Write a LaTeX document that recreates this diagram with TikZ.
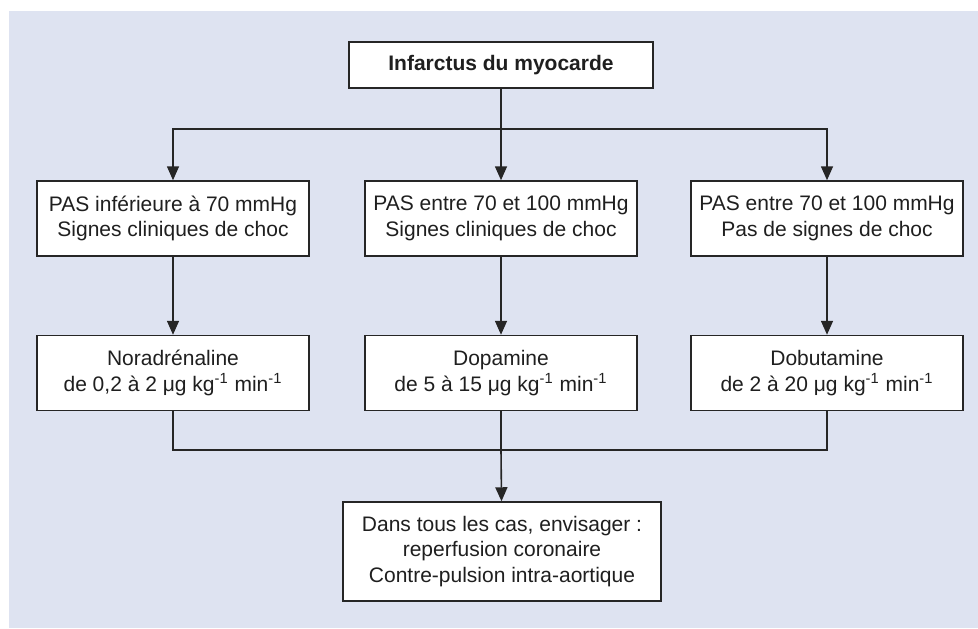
\documentclass[tikz,border=0pt]{standalone}
\usepackage{fontspec}
\setmainfont{Liberation Sans}
\usetikzlibrary{arrows.meta,positioning}
\definecolor{fond}{RGB}{222,227,241}
\definecolor{trait}{RGB}{38,38,38}

\begin{document}
\begin{tikzpicture}[x=0.5pt,y=-0.5pt,
    boite/.style={draw=trait,line width=0.75pt,fill=white,align=center,text=black!88,
        minimum width=136pt,minimum height=37.5pt,inner sep=2pt,
        font=\fontsize{10.5}{12.75}\selectfont},
    lien/.style={draw=trait,line width=0.8pt},
    fleche/.style={lien,-{Triangle[width=6pt,length=7pt]}}]
  \useasboundingbox (0,0) rectangle (978,628);
  \fill[fond] (9,11) rectangle (978,628);
  % premier niveau
  \node[boite,minimum width=152pt,minimum height=23pt,font=\fontsize{10.5}{12.75}\selectfont\bfseries] (im) at (501,65) {Infarctus du myocarde};
  \coordinate (haut) at (501,129);
  % pression arterielle
  \node[boite] (pas1) at (173,218.5) {PAS inférieure à 70 mmHg\\Signes cliniques de choc};
  \node[boite] (pas2) at (501,218.5) {PAS entre 70 et 100 mmHg\\Signes cliniques de choc};
  \node[boite] (pas3) at (827,218.5) {PAS entre 70 et 100 mmHg\\Pas de signes de choc};
  % traitements
  \node[boite] (nad) at (173,373) {Noradrénaline\\de 0,2 à 2 μg kg\textsuperscript{-1} min\textsuperscript{-1}};
  \node[boite] (dopa) at (501,373) {Dopamine\\de 5 à 15 μg kg\textsuperscript{-1} min\textsuperscript{-1}};
  \node[boite] (dobu) at (827,373) {Dobutamine\\de 2 à 20 μg kg\textsuperscript{-1} min\textsuperscript{-1}};
  \coordinate (bas) at (501,450);
  \node[boite,minimum width=159pt,minimum height=49.5pt] (cas) at (502,551.5) {Dans tous les cas, envisager :\\reperfusion coronaire\\Contre-pulsion intra-aortique};
  % liaisons
  \draw[lien] (im) -- (haut);
  \draw[fleche] (haut) -| (pas1);
  \draw[fleche] (haut) -- (pas2);
  \draw[fleche] (haut) -| (pas3);
  \draw[fleche] (pas1) -- (nad);
  \draw[fleche] (pas2) -- (dopa);
  \draw[fleche] (pas3) -- (dobu);
  \draw[lien] (nad) |- (bas);
  \draw[lien] (dopa) -- (bas);
  \draw[lien] (dobu) |- (bas);
  \draw[fleche] (bas) -- (cas);
\end{tikzpicture}
\end{document}
